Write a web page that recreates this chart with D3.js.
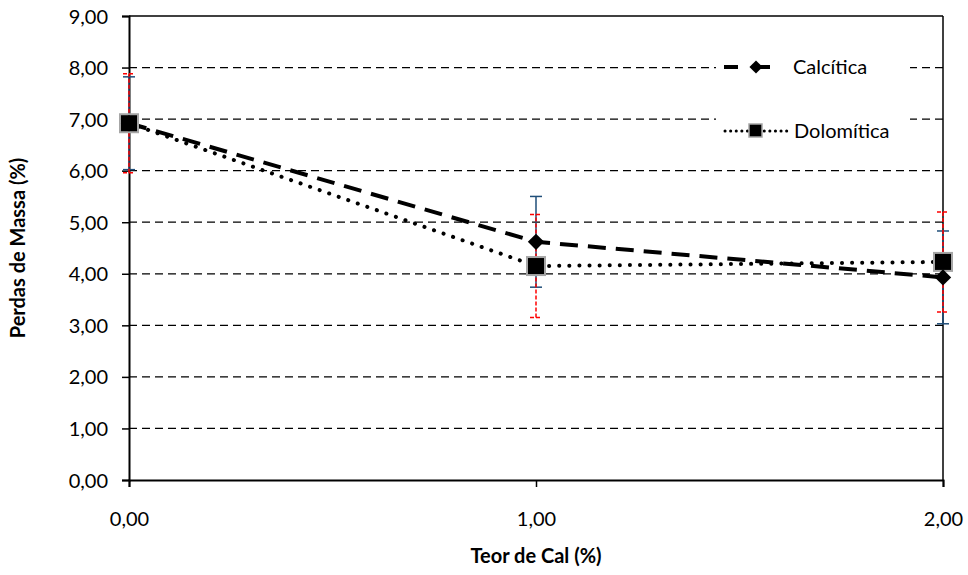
<!DOCTYPE html>
<html lang="pt">
<head>
  <meta charset="UTF-8" />
  <title>Perdas de Massa x Teor de Cal</title>
  <style>
    body { margin: 0; background: #fff; }
    svg { display: block; font-family: Lato, "Open Sans", sans-serif; }
    .tick-label { font-size: 20px; fill: #000; }
    .axis-title { font-size: 20px; font-weight: bold; fill: #000; }
    .legend-label { font-size: 20px; fill: #000; }
  </style>
</head>
<body>
  <svg width="968" height="575"></svg>
  <script src="https://d3js.org/d3.v7.min.js"></script>
  <script>
    // data
    const teor = [0, 1, 2];
    const calcitica = [6.92, 4.62, 3.93];
    const calciticaErr = [0.90, 0.88, 0.90];
    const dolomitica = [6.92, 4.15, 4.23];
    const dolomiticaErr = [0.96, 1.0, 0.97];
    const yTicks = [0, 1, 2, 3, 4, 5, 6, 7, 8, 9];
    const xTicks = [0, 1, 2];

    const svg = d3.select("svg");
    const margin = { top: 16, right: 25, bottom: 95, left: 129 };
    const width = 968, height = 575;
    const iw = width - margin.left - margin.right;
    const ih = height - margin.top - margin.bottom;

    const x = d3.scaleLinear().domain([0, 2]).range([0, iw]);
    const y = d3.scaleLinear().domain([0, 9]).range([ih, 0]);
    const fmt = v => d3.format(".2f")(v).replace(".", ",");

    const g = svg.append("g").attr("transform", `translate(${margin.left},${margin.top})`);

    // gridlines
    g.selectAll(".grid").data(yTicks.filter(d => d > 0 && d < 9)).join("line")
      .attr("x1", 0).attr("x2", iw)
      .attr("y1", d => y(d)).attr("y2", d => y(d))
      .attr("stroke", "#000").attr("stroke-width", 1.3)
      .attr("stroke-dasharray", "8,5");

    // frame (top and right)
    g.append("line").attr("x1", 0).attr("x2", iw).attr("y1", 0).attr("y2", 0)
      .attr("stroke", "#000").attr("stroke-width", 1.5);
    g.append("line").attr("x1", iw).attr("x2", iw).attr("y1", 0).attr("y2", ih)
      .attr("stroke", "#000").attr("stroke-width", 1.5);

    // axes
    const yAxis = g.append("g").call(d3.axisLeft(y).tickValues(yTicks).tickFormat(fmt).tickSize(7).tickPadding(14));
    const xAxis = g.append("g").attr("transform", `translate(0,${ih})`)
      .call(d3.axisBottom(x).tickValues(xTicks).tickFormat(fmt).tickSize(7).tickPadding(25));
    [yAxis, xAxis].forEach(a => {
      a.attr("font-family", null).attr("font-size", null);
      a.select(".domain").attr("stroke", "#000").attr("stroke-width", 2);
      a.selectAll(".tick line").attr("stroke", "#000").attr("stroke-width", 1.5);
      a.selectAll(".tick text").attr("class", "tick-label");
    });
    yAxis.selectAll(".tick text").attr("dy", "0.35em");

    // legend background
    svg.append("rect").attr("x", 716).attr("y", 40).attr("width", 194).attr("height", 120).attr("fill", "#fff");

    // series lines
    const line = vals => d3.line().x((d, i) => x(teor[i])).y(d => y(d))(vals);
    g.append("path").attr("d", line(calcitica)).attr("fill", "none")
      .attr("stroke", "#000").attr("stroke-width", 4).attr("stroke-dasharray", "18,10");
    g.append("path").attr("d", line(dolomitica)).attr("fill", "none")
      .attr("stroke", "#000").attr("stroke-width", 4).attr("stroke-linecap", "round")
      .attr("stroke-dasharray", "0.1,10");

    // error bars
    function errorBars(vals, errs, color, dash) {
      const eb = g.append("g");
      teor.forEach((t, i) => {
        const cx = x(t), lo = y(vals[i] - errs[i]), hi = y(vals[i] + errs[i]);
        eb.append("line").attr("x1", cx).attr("x2", cx).attr("y1", lo).attr("y2", hi)
          .attr("stroke", color).attr("stroke-width", 1.5).attr("stroke-dasharray", dash);
        [lo, hi].forEach(yy => eb.append("line").attr("x1", cx - 6).attr("x2", cx + 6)
          .attr("y1", yy).attr("y2", yy).attr("stroke", color).attr("stroke-width", 1.5)
          .attr("stroke-dasharray", dash));
      });
    }
    errorBars(calcitica, calciticaErr, "#1f4e79", null);
    errorBars(dolomitica, dolomiticaErr, "#ff0000", "4,2");

    // markers
    const diamond = d3.symbol().type(d3.symbolDiamond2).size(170);
    g.selectAll(".dol").data(dolomitica).join("rect")
      .attr("x", (d, i) => x(teor[i]) - 9).attr("y", d => y(d) - 9)
      .attr("width", 18).attr("height", 18)
      .attr("fill", "#000").attr("stroke", "#a6a6a6").attr("stroke-width", 2);
    g.selectAll(".cal").data(calcitica).join("path")
      .attr("d", diamond)
      .attr("transform", (d, i) => `translate(${x(teor[i])},${y(d)})`)
      .attr("fill", "#000");

    // legend
    const lg = svg.append("g");
    lg.append("line").attr("x1", 724).attr("x2", 788).attr("y1", 67).attr("y2", 67)
      .attr("stroke", "#000").attr("stroke-width", 4).attr("stroke-dasharray", "14,18");
    lg.append("path").attr("d", d3.symbol().type(d3.symbolDiamond2).size(110))
      .attr("transform", "translate(756,67)").attr("fill", "#000");
    lg.append("text").attr("class", "legend-label").attr("x", 793).attr("y", 74).text("Calcítica");
    lg.append("line").attr("x1", 725).attr("x2", 788).attr("y1", 131).attr("y2", 131)
      .attr("stroke", "#000").attr("stroke-width", 3).attr("stroke-linecap", "round")
      .attr("stroke-dasharray", "0.1,5.5");
    lg.append("rect").attr("x", 749).attr("y", 124).attr("width", 13).attr("height", 13)
      .attr("fill", "#000").attr("stroke", "#a6a6a6").attr("stroke-width", 1.5);
    lg.append("text").attr("class", "legend-label").attr("x", 794).attr("y", 138).text("Dolomítica");

    // axis titles
    svg.append("text").attr("class", "axis-title")
      .attr("transform", "translate(25,248) rotate(-90)").attr("text-anchor", "middle")
      .text("Perdas de Massa (%)");
    svg.append("text").attr("class", "axis-title")
      .attr("x", 536).attr("y", 563).attr("text-anchor", "middle")
      .text("Teor de Cal (%)");
  </script>
</body>
</html>
